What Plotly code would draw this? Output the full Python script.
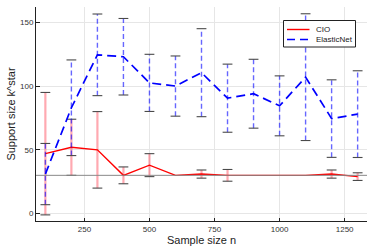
import plotly.graph_objects as go

n = [100, 200, 300, 400, 500, 600, 700, 800, 900, 1000, 1100, 1200, 1300]
cio_mean = [47, 52, 50, 30, 38, 30, 31, 30, 30, 30, 30, 31, 29]
cio_err = [48, 22, 30, 6.6, 9, 0, 3.2, 4.6, 0, 0, 0, 3.2, 3]
en_mean = [31, 83, 124.5, 123, 102.5, 100, 110.5, 90.5, 94, 84.5, 107, 74.5, 78]
en_err = [24, 37.5, 32, 30, 22.4, 23.6, 34.5, 26.7, 27, 23.5, 49.7, 30.4, 34]
series_names = ["CIO", "ElasticNet"]
k_true = 30
x_ticks = [250, 500, 750, 1000, 1250]
y_ticks = [0, 50, 100, 150]

FONT = "Liberation Sans, Arial, sans-serif"
CAP = "#4a4a4a"
W, H = 374, 249
ML, MR, MT, MB = 36, 7, 7, 28
PW, PH = W - ML - MR, H - MT - MB


def px_x(p):
    return (p - ML) / PW


def px_y(p):
    return 1 - (p - MT) / PH


def bar_segments(xs, ms, es):
    bx, by = [], []
    for x, m, e in zip(xs, ms, es):
        if e > 0:
            bx += [x, x, None]
            by += [m - e, m + e, None]
    return bx, by


def cap_points(xs, ms, es):
    cx, cy = [], []
    for x, m, e in zip(xs, ms, es):
        if e > 0:
            cx += [x, x]
            cy += [m - e, m + e]
    return cx, cy


fig = go.Figure()

# CIO error bars
bx, by = bar_segments(n, cio_mean, cio_err)
fig.add_trace(go.Scatter(x=bx, y=by, mode="lines", showlegend=False, hoverinfo="skip",
                         line=dict(color="rgba(255,40,60,0.4)", width=2.2)))
cx, cy = cap_points(n, cio_mean, cio_err)
fig.add_trace(go.Scatter(x=cx, y=cy, mode="markers", showlegend=False, hoverinfo="skip",
                         marker=dict(symbol="line-ew", size=7, line=dict(color=CAP, width=1.1))))
fig.add_trace(go.Scatter(x=n, y=cio_mean, mode="lines", name=series_names[0], showlegend=False,
                         line=dict(color="#ff0000", width=1.4)))

# ElasticNet error bars
bx, by = bar_segments(n, en_mean, en_err)
fig.add_trace(go.Scatter(x=bx, y=by, mode="lines", showlegend=False, hoverinfo="skip",
                         line=dict(color="rgba(0,0,255,0.6)", width=1.4, dash="5px,3px")))
cx, cy = cap_points(n, en_mean, en_err)
fig.add_trace(go.Scatter(x=cx, y=cy, mode="markers", showlegend=False, hoverinfo="skip",
                         marker=dict(symbol="line-ew", size=7, line=dict(color=CAP, width=1.1))))
fig.add_trace(go.Scatter(x=n, y=en_mean, mode="lines", name=series_names[1], showlegend=False,
                         line=dict(color="#0000ff", width=1.7, dash="9px,5px")))

fig.add_shape(type="line", xref="paper", x0=0, x1=1, yref="y", y0=k_true, y1=k_true,
              line=dict(color="#888888", width=1), layer="above")

# manual legend (compact, like the reference)
fig.add_shape(type="rect", xref="paper", yref="paper",
              x0=px_x(283.5), x1=px_x(355.5), y0=px_y(20.5), y1=px_y(47),
              line=dict(color="#222222", width=1), fillcolor="white", layer="above")
legend_styles = [dict(color="#ff0000", width=1.4),
                 dict(color="#0000ff", width=1.7, dash="8px,5px")]
for i, (name, st) in enumerate(zip(series_names, legend_styles)):
    yy = px_y(29.5 + 10 * i)
    fig.add_shape(type="line", xref="paper", yref="paper", x0=px_x(287), x1=px_x(309.5),
                  y0=yy, y1=yy, line=st, layer="above")
    fig.add_annotation(xref="paper", yref="paper", x=px_x(313.5), y=yy, text=name,
                       showarrow=False, xanchor="left", yanchor="middle",
                       font=dict(size=8, family=FONT, color="#222222"))

fig.update_layout(
    width=W, height=H,
    margin=dict(l=ML, r=MR, t=MT, b=MB, autoexpand=False),
    paper_bgcolor="white", plot_bgcolor="white",
    font=dict(family=FONT, color="#222222"),
    showlegend=False,
    xaxis=dict(range=[64, 1336], tickvals=x_ticks, showgrid=True, gridcolor="#e6e6e6",
               gridwidth=1, zeroline=False, showline=True, linecolor="#222222", linewidth=1,
               ticks="inside", ticklen=3, tickcolor="#222222", automargin=False,
               tickfont=dict(size=8, color="#333333"),
               title=dict(text="Sample size n", font=dict(size=11), standoff=2)),
    yaxis=dict(range=[-5.8, 162], tickvals=y_ticks, showgrid=True, gridcolor="#e6e6e6",
               gridwidth=1, zeroline=False, showline=True, linecolor="#222222", linewidth=1,
               ticks="inside", ticklen=4, tickcolor="#222222", automargin=False,
               tickfont=dict(size=8, color="#333333"),
               title=dict(text="Support size k^star", font=dict(size=11), standoff=2)),
)

fig.write_html("out.html", config={"displayModeBar": False},
               post_script="document.body.style.margin='0';document.body.style.padding='0';")
